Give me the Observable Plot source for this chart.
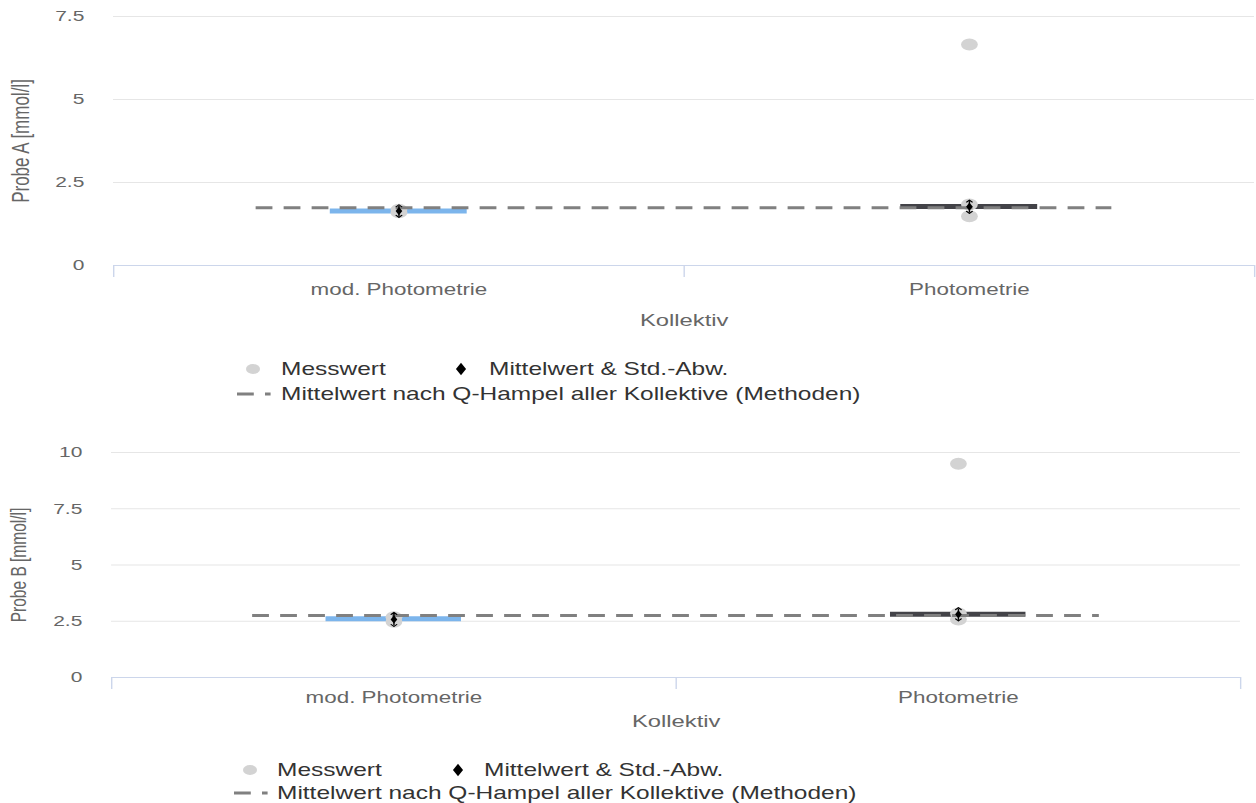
<!DOCTYPE html>
<html><head><meta charset="utf-8">
<script src="https://cdn.jsdelivr.net/npm/d3@7"></script>
<script src="https://cdn.jsdelivr.net/npm/@observablehq/plot@0.6"></script>
<style>
html,body{margin:0;padding:0;background:#fff;overflow:hidden;width:1256px;height:803px;}
#wrap{position:absolute;left:0;top:0;width:897.14px;height:803px;transform:scaleX(1.4);transform-origin:0 0;font-family:"Liberation Sans",Arial,sans-serif;}
#wrap svg{position:absolute;left:0;overflow:visible;}
</style></head><body><div id="wrap"></div>
<script>
// ---- data ----
const categories = ["mod. Photometrie", "Photometrie"];
const yTicksA = [0, 2.5, 5, 7.5];
const yTicksB = [0, 2.5, 5, 7.5, 10];
// Probe A
const measA_mod = [1.6, 1.68];
const measA_phot = [1.84, 1.48, 6.66];
const barA = [1.64, 1.78];
const meanA = [1.64, 1.77];
const sdA = [0.16, 0.17];
const hampelA = 1.74;
// Probe B
const measB_mod = [2.48, 2.68];
const measB_phot = [2.84, 2.58, 9.5];
const barB = [2.61, 2.81];
const meanB = [2.58, 2.81];
const sdB = [0.27, 0.25];
const hampelB = 2.76;
const legendLabels = ["Messwert", "Mittelwert & Std.-Abw.", "Mittelwert nach Q-Hampel aller Kollektive (Methoden)"];

const S = 1.4;            // horizontal stretch of the reference
const W = 1256 / S;
const FONT = '"Liberation Sans", Arial, sans-serif';
const barColors = ["#7cb5ec", "#434348"];

function chart(o) {
  const centers = categories.map((c, i) => i + 0.5);
  const bounds = d3.range(categories.length + 1);
  const barData = categories.map((c, i) => ({c, x1: i + 0.5 - 0.12, x2: i + 0.5 + 0.12, y: o.bars[i]}));
  const pts = categories.flatMap((c, i) => o.meas[i].map(v => ({x: i + 0.5, y: v})));
  const mean = categories.map((c, i) => ({x: i + 0.5, y: o.means[i], lo: o.means[i] - o.sds[i], hi: o.means[i] + o.sds[i]}));
  const svg = Plot.plot({
    width: W, height: o.height,
    marginLeft: o.marginLeft, marginRight: o.marginRight, marginTop: o.marginTop, marginBottom: o.marginBottom,
    style: {fontFamily: FONT, background: "transparent", overflow: "visible"},
    x: {domain: [0, categories.length]},
    y: {domain: [0, o.yMax]},
    color: {domain: categories, range: barColors},
    marks: [
      Plot.gridY(o.yTicks.filter(t => t > 0), {stroke: "#e6e6e6", strokeOpacity: 1, strokeWidth: 1}),
      Plot.axisY(o.yTicks, {tickSize: 0, tickPadding: 21, tickFormat: d => String(d), fontSize: 15, fill: "#666", label: null}),
      Plot.ruleY([0], {stroke: "#ccd6eb", strokeWidth: 1}),
      Plot.axisX(bounds, {tickSize: 12, stroke: "#ccd6eb", strokeOpacity: 1, tickFormat: () => "", label: null}),
      Plot.axisX(centers, {tickSize: 0, tickPadding: o.catPad, tickFormat: d => categories[Math.floor(d)], fontSize: 16, fill: "#666", label: null}),
      Plot.ruleY(barData, {x1: "x1", x2: "x2", y: "y", stroke: "c", strokeWidth: 5}),
      Plot.dot(pts, {x: "x", y: "y", r: 6, fill: "#d3d3d3"}),
      Plot.ruleY([o.hampel], {x1: 0.25, x2: categories.length - 0.25, stroke: "#808080", strokeWidth: 3, strokeDasharray: "12,8"}),
      Plot.link(mean, {x1: "x", x2: "x", y1: "y", y2: "hi", stroke: "black", strokeWidth: 1, markerEnd: "arrow"}),
      Plot.link(mean, {x1: "x", x2: "x", y1: "y", y2: "lo", stroke: "black", strokeWidth: 1, markerEnd: "arrow"}),
      Plot.dot(mean, {x: "x", y: "y", symbol: "diamond", r: 2.5, fill: "black"}),
      Plot.text([o.yLabel], {frameAnchor: "left", textAnchor: "middle", rotate: -90, dx: -66, fontSize: o.yLabelSize, fill: "#666"}),
      Plot.text(["Kollektiv"], {frameAnchor: "bottom", dy: o.xLabelDy, fontSize: 17, fill: "#666"})
    ]
  });
  svg.style.top = o.top + "px";
  document.getElementById("wrap").appendChild(svg);
}

function legend(top, p) {
  const svg = d3.select("#wrap").append("svg").attr("width", W).attr("height", 50)
    .style("top", top + "px").style("font-family", FONT).style("font-size", "17.5px");
  const r1 = 12, r2 = 12 + p.gap;
  svg.append("circle").attr("cx", p.circle).attr("cy", r1).attr("r", 5).attr("fill", "#d3d3d3");
  svg.append("path").attr("d", d3.symbol(d3.symbolDiamond, 45)()).attr("transform", `translate(${p.diamond},${r1})`).attr("fill", "black");
  svg.append("line").attr("x1", p.dash).attr("x2", p.dash + 24).attr("y1", r2).attr("y2", r2)
    .attr("stroke", "#808080").attr("stroke-width", 3).attr("stroke-dasharray", "12,8");
  const t = [[p.text1, r1, legendLabels[0]], [p.text2, r1, legendLabels[1]], [p.text1, r2, legendLabels[2]]];
  t.forEach(([x, y, s]) => svg.append("text").attr("x", x).attr("y", y).attr("dy", "0.35em").attr("fill", "#333").text(s));
}

chart({top: 0, height: 335, marginTop: 16, marginBottom: 70, marginLeft: 113 / S, marginRight: 2 / S,
  yMax: 7.5, yTicks: yTicksA, meas: [measA_mod, measA_phot], bars: barA, means: meanA, sds: sdA, hampel: hampelA,
  yLabel: "Probe A [mmol/l]", yLabelSize: 17, catPad: 18, xLabelDy: 61});
legend(357, {circle: 253 / S, text1: 281 / S, diamond: 461 / S, text2: 489 / S, dash: 237 / S, gap: 25});

chart({top: 430, height: 310, marginTop: 22, marginBottom: 63, marginLeft: 111 / S, marginRight: 16 / S,
  yMax: 10, yTicks: yTicksB, meas: [measB_mod, measB_phot], bars: barB, means: meanB, sds: sdB, hampel: hampelB,
  yLabel: "Probe B [mmol/l]", yLabelSize: 15.5, catPad: 14, xLabelDy: 50});
legend(758, {circle: 250 / S, text1: 277 / S, diamond: 458 / S, text2: 484 / S, dash: 234 / S, gap: 23});
</script></body></html>
